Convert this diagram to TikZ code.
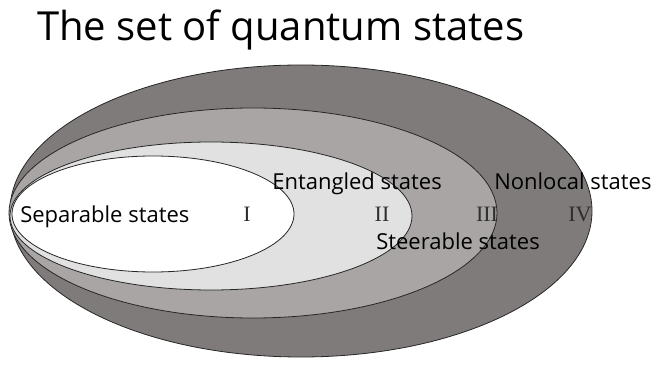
\documentclass[tikz,border=0pt]{standalone}
\usepackage{fontspec}
\setmainfont{Liberation Serif}
\setsansfont{Open Sans}
\usepackage{xcolor}
\usepackage{tikz}
\usetikzlibrary{positioning}
\definecolor{qdark}{HTML}{7F7B7B}
\definecolor{qmid}{HTML}{A9A5A5}
\definecolor{qlight}{HTML}{E1E1E1}
\definecolor{qnum}{HTML}{2E2E2E}

\tikzset{
  setline/.style={draw=black!85, line width=0.6pt},
  setlabel/.style={font=\fontsize{16.5}{18}\selectfont\sffamily, anchor=base west, inner sep=0pt},
  setnum/.style={font=\fontsize{16.5}{18}\selectfont\rmfamily, text=qnum, anchor=base, inner sep=0pt}
}

\begin{document}
\begin{tikzpicture}[x=0.75pt, y=-0.75pt]
  \useasboundingbox (0,0) rectangle (658,367);

  %% Title
  \node[font=\fontsize{30}{33}\selectfont\sffamily, anchor=base west, inner sep=0pt] (title)
    at (37,41) {The set of quantum states};

  %% Nested sets
  \foreach \cx/\cy/\rx/\ry/\col in {301/211/291/146/qdark, 253/213/244/105/qmid,
    211/216/201/74/qlight, 153/214/141/58/white}{
    \draw[setline, fill=\col] (\cx,\cy) ellipse [x radius=\rx, y radius=\ry];
  }

  %% Labels
  \node[setlabel] (separable) at (20,223) {Separable states};
  \node[setlabel] (entangled) at (272,190) {Entangled states};
  \node[setlabel] (nonlocal)  at (494,190) {Nonlocal states};
  \node[setlabel] (steerable) at (376,250) {Steerable states};

  %% Region numbers
  \foreach \x/\n/\nm in {247/I/one, 382/II/two, 487/III/three, 580/IV/four}{
    \node[setnum] (num\nm) at (\x,222) {\n};
  }

\end{tikzpicture}
\end{document}
